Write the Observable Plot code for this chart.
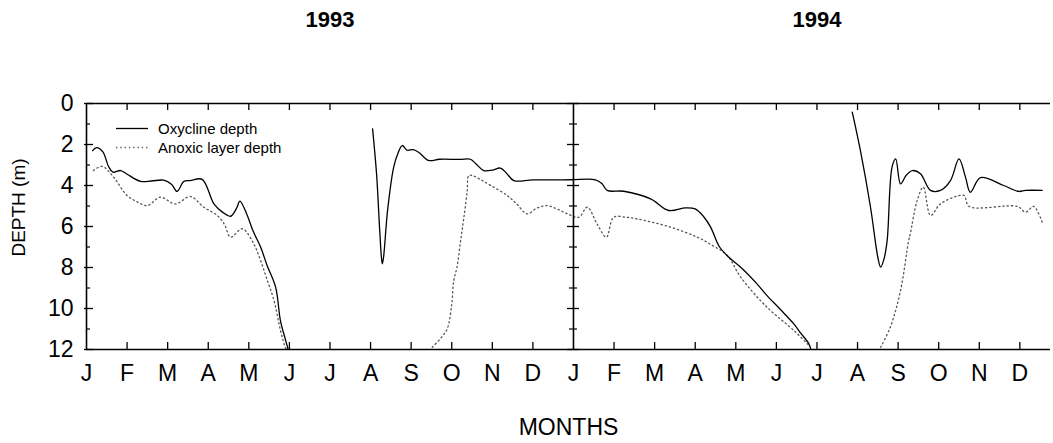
<!DOCTYPE html>
<html>
<head>
<meta charset="utf-8">
<script src="https://cdn.jsdelivr.net/npm/d3@7"></script>
<script src="https://cdn.jsdelivr.net/npm/@observablehq/plot@0.6"></script>
<style>
  html, body { margin: 0; padding: 0; background: #fff; overflow: hidden; }
  #wrap { position: relative; width: 1053px; height: 443px; font-family: Arial, "Liberation Sans", sans-serif; }
  #legend { position: absolute; left: 116px; top: 119px; font-size: 15px; line-height: 19px; color: #000; }
  #legend .row { display: flex; align-items: center; height: 19px; }
  #legend svg { width: 32px; height: 19px; margin-right: 10px; }
</style>
</head>
<body>
<div id="wrap"><div id="legend"></div></div>
<script>
// ---- data (months since 1 Jan 1993; depth in m; null = gap) ----
const years = ["1993", "1994"];
const yearStarts = [0, 12];
const monthLabels = ["J","F","M","A","M","J","J","A","S","O","N","D"];
const monthTicks = d3.range(24);
const depthLabels = [0, 2, 4, 6, 8, 10, 12];
const depthMinor = [1, 3, 5, 7, 9, 11];

const oxyMonth = [
  0.15, 0.25, 0.4, 0.55, 0.65, 0.84, 1.0, 1.33, 1.6, 1.9, 2.1, 2.23, 2.4, 2.55, 2.85, 3.14, 3.35, 3.55, 3.7, 3.78, 3.95, 4.1, 4.29, 4.45, 4.66, 4.78, 4.9, 4.97,
  5.5,
  7.05, 7.15, 7.22, 7.27, 7.29, 7.32, 7.42, 7.57, 7.68, 7.78, 7.9, 8.05, 8.2, 8.43, 8.7, 9.2, 9.46, 9.6, 9.79, 10.0, 10.2, 10.35, 10.53, 11.0, 11.93, 12.54, 12.7, 12.83, 13.24, 13.9, 14.35, 14.76, 15.0, 15.2, 15.38, 15.6, 15.83, 16.16, 16.5, 16.77, 17.1, 17.43, 17.6, 17.8, 17.85,
  18.5,
  18.87, 19.07, 19.32, 19.5, 19.57, 19.65, 19.73, 19.85, 19.94, 20.06, 20.2, 20.35, 20.55, 20.8, 21.04, 21.29, 21.5, 21.66, 21.78, 22.03, 22.6, 22.97, 23.14, 23.55
];
const oxyDepth = [
  2.3, 2.15, 2.35, 3.1, 3.35, 3.27, 3.45, 3.8, 3.78, 3.74, 3.95, 4.29, 3.8, 3.76, 3.7, 4.9, 5.3, 5.5, 5.1, 4.76, 5.4, 6.2, 7.0, 7.9, 8.96, 10.6, 11.5, 12,
  null,
  1.24, 3.5, 6.0, 7.55, 7.82, 7.5, 5.2, 3.1, 2.4, 2.05, 2.28, 2.25, 2.4, 2.78, 2.72, 2.73, 2.72, 2.95, 3.27, 3.25, 3.15, 3.4, 3.76, 3.73, 3.72, 3.72, 3.9, 4.24, 4.28, 4.65, 5.22, 5.09, 5.14, 5.5, 6.03, 7.0, 7.5, 8.06, 8.75, 9.37, 10.05, 10.75, 11.2, 11.72, 12,
  null,
  0.42, 2.29, 5.06, 7.5, 7.98, 7.6, 6.68, 3.1, 2.7, 3.92, 3.5, 3.27, 3.43, 4.24, 4.24, 3.76, 2.7, 3.59, 4.33, 3.62, 4.0, 4.29, 4.24, 4.24
];

const anoxMonth = [
  0.17, 0.39, 0.67, 1.0, 1.25, 1.5, 1.82, 2.19, 2.56, 2.89, 3.22, 3.4, 3.55, 3.84, 4.12, 4.29, 4.45, 4.62, 4.78, 4.9, 4.93,
  6.5,
  8.52, 8.75, 8.89, 9.0, 9.05, 9.13, 9.22, 9.3, 9.38, 9.42, 9.5, 9.7, 9.96, 10.37, 10.6, 10.86, 11.1, 11.35, 11.6, 11.85, 12.13, 12.34, 12.58, 12.81, 12.99, 13.3, 13.57, 14.39, 15.05, 15.4, 15.79, 16.12, 16.77, 17.43, 17.8,
  18.5,
  19.57, 19.81, 20.06, 20.26, 20.3, 20.47, 20.62, 20.8, 21.04, 21.5, 21.63, 21.75, 22.94, 23.14, 23.34, 23.55
];
const anoxDepth = [
  3.27, 3.07, 3.6, 4.49, 4.8, 4.98, 4.57, 4.9, 4.54, 5.06, 5.46, 5.9, 6.52, 6.11, 6.84, 7.66, 8.6, 9.6, 11.07, 11.9, 12,
  null,
  11.89, 11.4, 10.99, 9.8, 8.63, 7.98, 6.68, 5.55, 4.3, 3.51, 3.51, 3.7, 4.0, 4.49, 4.9, 5.38, 5.1, 4.98, 5.15, 5.38, 5.55, 5.06, 5.87, 6.52, 5.55, 5.55, 5.63, 6.03, 6.52, 6.9, 7.41, 8.47, 9.94, 11.07, 11.8,
  null,
  11.89, 10.9, 9.12, 6.68, 6.36, 4.73, 4.08, 5.46, 4.9, 4.49, 4.49, 5.02, 5.02, 5.3, 5.02, 5.79
];

const seriesNames = ["Oxycline depth", "Anoxic layer depth"];

// ---- table built from the arrays ----
const oxy = oxyMonth.map((m, i) => ({month: m, depth: oxyDepth[i]}));
const anox = anoxMonth.map((m, i) => ({month: m, depth: anoxDepth[i]}));

const frameH = 443 - 103 - 94;

const chart = Plot.plot({
  width: 1053,
  height: 443,
  marginTop: 103,
  marginBottom: 94,
  marginLeft: 86,
  marginRight: 3,
  x: {domain: [0, 23.755], axis: null},
  y: {domain: [0, 12], reverse: true, axis: null},
  style: {fontFamily: "Arial, 'Liberation Sans', sans-serif", background: "white", color: "black", overflow: "visible"},
  marks: [
    // data
    Plot.line(anox, {x: "month", y: "depth", curve: "catmull-rom", stroke: "#555", strokeWidth: 1.3, strokeDasharray: "1.3,3", clip: true}),
    Plot.line(oxy, {x: "month", y: "depth", curve: "catmull-rom", stroke: "#000", strokeWidth: 1.3, clip: true}),
    // frame pieces
    Plot.ruleY([0, 12], {y: d => d, stroke: "#000", strokeWidth: 1.6}),
    Plot.ruleX(yearStarts, {x: d => d, stroke: "#000", strokeWidth: 1.6}),
    // month ticks (inward)
    Plot.ruleX(monthTicks.filter(d => d % 12 !== 0), {x: d => d, insetTop: frameH - 7, stroke: "#000", strokeWidth: 1.3}),
    Plot.ruleX(monthTicks.filter(d => d % 12 !== 0), {x: d => d, insetBottom: frameH - 7, stroke: "#000", strokeWidth: 1.3}),
    // depth ticks on left axis
    Plot.ruleY(depthLabels, {y: d => d, x1: 0, x2: 0, insetRight: -7, insetLeft: -2, stroke: "#000", strokeWidth: 1.3}),
    Plot.ruleY(depthMinor, {y: d => d, x1: 0, x2: 0, insetRight: -4, stroke: "#000", strokeWidth: 1.2}),
    // depth ticks on the year divider
    Plot.ruleY(depthLabels, {y: d => d, x1: 12, x2: 12, insetLeft: -6, insetRight: -6, stroke: "#000", strokeWidth: 1.3}),
    Plot.ruleY(depthMinor, {y: d => d, x1: 12, x2: 12, insetLeft: -4, insetRight: -4, stroke: "#000", strokeWidth: 1.2}),
    // axes labels
    Plot.axisY(depthLabels, {tickSize: 0, tickPadding: 13, fontSize: 23, label: null}),
    Plot.axisX(monthTicks, {tickSize: 0, tickPadding: 15, fontSize: 23, tickFormat: d => monthLabels[d % 12], label: null}),
    Plot.text(["DEPTH (m)"], {text: d => d, frameAnchor: "left", textAnchor: "middle", lineAnchor: "middle", rotate: -90, dx: -68, dy: -19, fontSize: 19}),
    Plot.text(["MONTHS"], {text: d => d, frameAnchor: "bottom", textAnchor: "middle", lineAnchor: "middle", dy: 78, fontSize: 23}),
    // year titles
    Plot.text(years, {text: d => d, x: (d, i) => yearStarts[i] + 6, frameAnchor: "top", lineAnchor: "middle", dy: -84, fontSize: 22, fontWeight: "bold"})
  ]
});

const wrap = document.getElementById("wrap");
wrap.insertBefore(chart, wrap.firstChild);
chart.style.position = "absolute";
chart.style.left = "0";
chart.style.top = "0";

// legend
const legend = document.getElementById("legend");
const dashes = [null, "1.3,3"];
const strokes = ["#000", "#555"];
seriesNames.forEach((name, i) => {
  const row = document.createElement("div");
  row.className = "row";
  const s = d3.create("svg").attr("viewBox", "0 0 32 19");
  s.append("line").attr("x1", 0).attr("x2", 32).attr("y1", 9.5).attr("y2", 9.5)
    .attr("stroke", strokes[i]).attr("stroke-width", 1.3)
    .attr("stroke-dasharray", dashes[i]);
  row.appendChild(s.node());
  const t = document.createElement("span");
  t.textContent = name;
  row.appendChild(t);
  legend.appendChild(row);
});
</script>
</body>
</html>
